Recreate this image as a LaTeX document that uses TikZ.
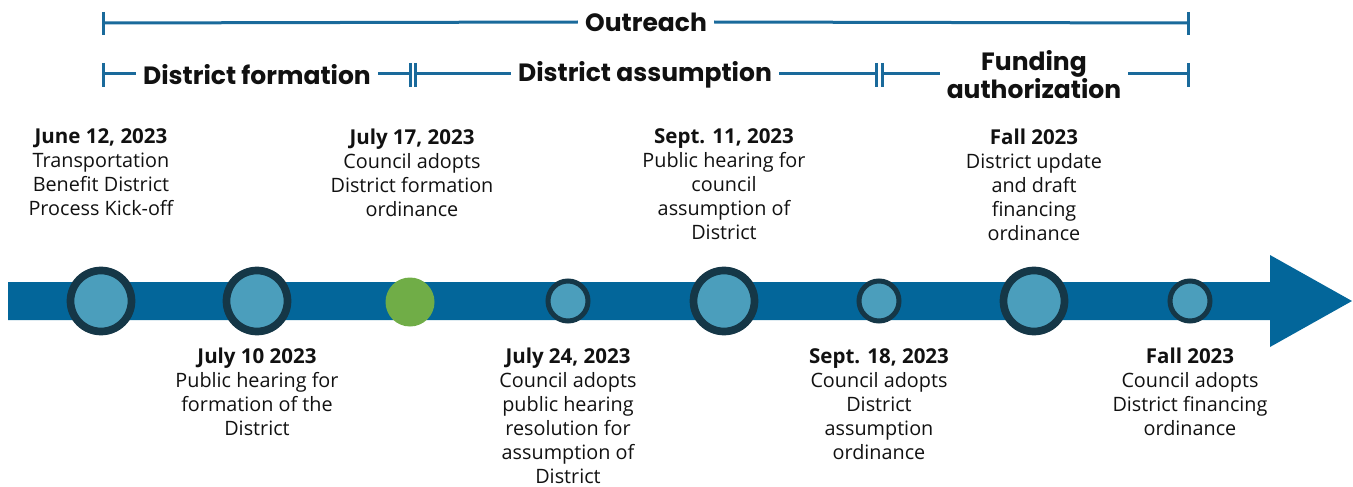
\documentclass[tikz,border=0pt]{standalone}
\usepackage{fontspec}
\setmainfont{Open Sans}
\newfontfamily\headfont{Poppins}
\definecolor{barblue}{HTML}{03669A}
\definecolor{lineblue}{HTML}{1A6A9B}
\definecolor{dotfill}{HTML}{4B9EBC}
\definecolor{dotring}{HTML}{153747}
\definecolor{dotgreen}{HTML}{70AD47}
\definecolor{txt}{HTML}{111111}
\newcommand{\dt}[1]{{\fontsize{20.5}{24}\selectfont\bfseries #1}}
\begin{document}
\begin{tikzpicture}[x=1pt,y=-1pt,
  lbl/.style={font=\fontsize{19.8}{24}\selectfont, align=center, inner sep=0pt, anchor=north, text=txt},
  head/.style={font=\headfont\bfseries\fontsize{25}{28}\selectfont, align=center, inner sep=7pt, text=txt},
  span/.style={draw=lineblue, line width=3pt},
  bigdot/.style={circle, draw=dotring, fill=dotfill, line width=7.7pt, minimum size=61pt, inner sep=0pt},
  smalldot/.style={circle, draw=dotring, fill=dotfill, line width=5pt, minimum size=40pt, inner sep=0pt},
  greendot/.style={circle, fill=dotgreen, minimum size=49pt, inner sep=0pt}]
\useasboundingbox (0,0) rectangle (1353,487);

% main arrow
\fill[barblue] (8,282) -- (1270,282) -- (1270,255) -- (1352,301) -- (1270,347) -- (1270,320) -- (8,320) -- cycle;

% dots
\node[bigdot] (d1) at (101,301) {};
\node[bigdot] (d2) at (257,301) {};
\node[greendot] (d3) at (410,302) {};
\node[smalldot] (d4) at (568,301) {};
\node[bigdot] (d5) at (724,301) {};
\node[smalldot] (d6) at (879,301) {};
\node[bigdot] (d7) at (1034,301) {};
\node[smalldot] (d8) at (1190,301) {};

% labels above
\node[lbl] (t1) at (101,128.5) {\dt{June 12, 2023}\\Transportation\\Benefit District\\Process Kick-off};
\node[lbl] (t3) at (412,128.5) {\dt{July 17, 2023}\\Council adopts\\District formation\\ordinance};
\node[lbl] (t5) at (724,128.5) {\dt{Sept. 11, 2023}\\Public hearing for\\council\\assumption of\\District};
\node[lbl] (t7) at (1034,128.5) {\dt{Fall 2023}\\District update\\and draft\\financing\\ordinance};

% labels below
\node[lbl] (b2) at (257,348) {\dt{July 10 2023}\\Public hearing for\\formation of the\\District};
\node[lbl] (b4) at (568,348) {\dt{July 24, 2023}\\Council adopts\\public hearing\\resolution for\\assumption of\\District};
\node[lbl] (b6) at (879,348) {\dt{Sept. 18, 2023}\\Council adopts\\District\\assumption\\ordinance};
\node[lbl] (b8) at (1190,348) {\dt{Fall 2023}\\Council adopts\\District financing\\ordinance};

% Outreach span
\coordinate (oL) at (103,23);
\coordinate (oR) at (1188,23);
\node[head] (outreach) at (646,22) {Outreach};
\draw[span] (oL) -- (outreach.west);
\draw[span] (outreach.east) -- (oR);
\draw[span] (103,12) -- (103,35);
\draw[span] (1188,12) -- (1188,35);

% phase spans
\coordinate (fL) at (103,74);
\coordinate (fR) at (410,74);
\coordinate (aL) at (415,74);
\coordinate (aR) at (876,74);
\coordinate (uL) at (882,74);
\coordinate (uR) at (1188,74);
\node[head] (form) at (257,75) {District formation};
\node[head] (assum) at (645,75) {District assumption};
\node[head] (fund) at (1034,74.5) {Funding\\authorization};
\draw[span] (fL) -- (fL -| form.west);
\draw[span] (fR -| form.east) -- (fR);
\draw[span] (aL) -- (aL -| assum.west);
\draw[span] (aR -| assum.east) -- (aR);
\draw[span] (uL) -- (uL -| fund.west);
\draw[span] (uR -| fund.east) -- (uR);
\foreach \x in {103,410,415,876,882,1188} \draw[span] (\x,63) -- (\x,87);
\end{tikzpicture}
\end{document}
